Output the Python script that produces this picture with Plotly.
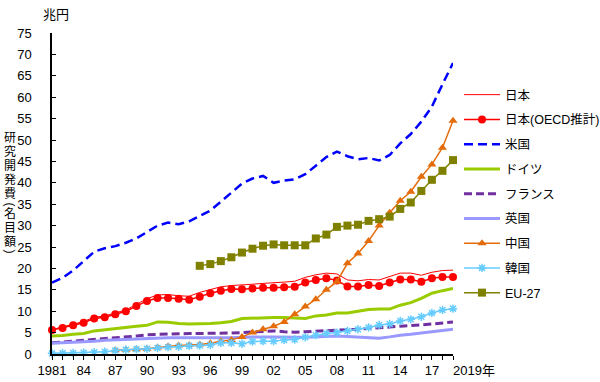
import plotly.graph_objects as go

years = list(range(1981, 2020))

japan = [5.7, 6.3, 6.9, 7.6, 8.6, 8.9, 9.6, 10.3, 11.6, 12.9,
         13.8, 13.9, 13.6, 13.5, 14.4, 15.1, 15.7, 16.0, 16.1, 16.3,
         16.5, 16.6, 16.8, 17.0, 17.9, 18.5, 18.9, 18.7, 17.3, 17.1,
         17.4, 17.3, 18.1, 18.9, 18.9, 18.4, 19.1, 19.5, 19.6]
japan_oecd = [5.6, 6.1, 6.7, 7.3, 8.3, 8.6, 9.3, 10.0, 11.2, 12.4,
              13.1, 13.1, 12.9, 12.7, 13.4, 14.2, 14.8, 15.2, 15.1, 15.3,
              15.5, 15.5, 15.6, 15.7, 16.7, 17.3, 17.7, 17.2, 15.8, 15.8,
              16.1, 15.9, 16.7, 17.4, 17.4, 16.9, 17.7, 18.0, 18.0]
usa = [16.7, 17.8, 19.5, 21.7, 23.9, 24.7, 25.2, 26.0, 27.0, 28.5,
       30.0, 30.7, 30.3, 31.0, 32.2, 33.5, 35.6, 37.8, 39.8, 41.0,
       41.6, 40.0, 40.5, 40.8, 42.0, 44.0, 46.0, 47.3, 46.2, 45.5,
       45.8, 45.2, 46.5, 49.2, 51.4, 54.3, 57.8, 63.0, 68.0]
germany = [4.2, 4.3, 4.6, 4.8, 5.4, 5.7, 6.0, 6.3, 6.5, 6.7,
           7.5, 7.4, 7.1, 7.0, 7.0, 7.1, 7.3, 7.6, 8.3, 8.4,
           8.5, 8.5, 8.5, 8.4, 8.3, 8.9, 9.1, 9.6, 9.6, 10.0,
           10.4, 10.5, 10.5, 11.4, 12.0, 13.0, 14.2, 14.8, 15.3]
france = [2.6, 2.8, 2.9, 3.1, 3.3, 3.5, 3.8, 4.0, 4.2, 4.5,
          4.6, 4.7, 4.8, 4.8, 4.8, 4.8, 4.8, 4.9, 5.0, 5.1,
          5.3, 5.4, 5.2, 5.1, 5.2, 5.3, 5.4, 5.5, 5.6, 5.8,
          6.0, 6.1, 6.3, 6.5, 6.6, 6.8, 7.0, 7.3, 7.5]
uk = [2.5, 2.6, 2.8, 2.9, 3.0, 3.2, 3.3, 3.5, 3.6, 3.7,
      3.8, 3.8, 3.8, 3.8, 3.7, 3.7, 3.7, 3.8, 3.9, 4.0,
      4.0, 4.0, 3.9, 3.9, 3.9, 4.0, 4.1, 4.2, 4.1, 4.0,
      3.9, 3.7, 4.0, 4.4, 4.6, 4.9, 5.2, 5.5, 5.8]
china = [None, None, None, None, None, None, 0.9, 1.0, 1.1, 1.2,
         1.5, 1.8, 2.0, 2.1, 2.2, 2.5, 3.0, 3.3, 4.0, 5.0,
         5.8, 6.5, 7.5, 9.3, 11.1, 12.8, 15.0, 16.9, 21.2, 23.5,
         26.4, 30.0, 33.0, 35.8, 37.9, 41.4, 44.3, 48.2, 54.5]
korea = [0.15, 0.2, 0.25, 0.3, 0.4, 0.55, 0.8, 1.0, 1.1, 1.2,
         1.4, 1.6, 1.7, 1.9, 2.0, 2.1, 2.6, 2.6, 2.4, 2.9,
         3.0, 3.0, 3.3, 3.4, 3.9, 4.4, 4.8, 5.0, 5.4, 5.8,
         6.2, 6.8, 7.0, 7.7, 8.1, 8.7, 9.6, 10.3, 10.6]
eu27 = [None] * 14 + [20.6, 21.0, 21.7, 22.6, 23.7, 24.6,
                      25.3, 25.6, 25.4, 25.4, 25.4, 27.0, 27.9, 29.7, 30.0, 30.2,
                      31.1, 31.5, 32.1, 33.9, 35.4, 38.1, 40.7, 42.8, 45.3]

x_tick_labels = ["1981", "", "", "84", "", "", "87", "", "", "90", "", "", "93", "", "",
                 "96", "", "", "99", "", "", "02", "", "", "05", "", "", "08", "", "",
                 "11", "", "", "14", "", "", "17", "", ""]
y_tick_vals = list(range(0, 80, 5))
# vertical title: parentheses are drawn rotated, as in vertical Japanese text
y_title_chars = ["研", "究", "開", "発", "費", "(", "名", "目", "額", ")"]

FONT = "Arial, 'Liberation Sans', 'Noto Sans CJK JP', sans-serif"

L, R, T, B = 52, 147, 33, 28
W, H = 600, 382
plot_w = W - L - R
plot_h = H - T - B


def px_x(px):
    return (px - L) / plot_w


def px_y(py):
    return (H - B - py) / plot_h


fig = go.Figure()


def add(name, y, color, width, dash="solid", symbol=None, msize=7, mline=None):
    mode = "lines+markers" if symbol else "lines"
    marker = dict(symbol=symbol, size=msize, color=color) if symbol else None
    if symbol and mline:
        marker["line"] = dict(color=color, width=mline)
    fig.add_trace(go.Scatter(
        x=years, y=y, name=name, mode=mode,
        line=dict(color=color, width=width, dash=dash),
        marker=marker, cliponaxis=False, legendgroup=name,
        connectgaps=False,
    ))


add("日本", japan, "#FF0000", 1)
add("日本(OECD推計)", japan_oecd, "#FF0000", 1.5, symbol="circle", msize=8)
add("米国", usa, "#0000FF", 2.5, dash="9px,5px")
add("ドイツ", germany, "#99CC00", 3)
add("フランス", france, "#7030A0", 3, dash="8px,4px")
add("英国", uk, "#9999FF", 3)
add("中国", china, "#E46C0A", 1.5, symbol="triangle-up", msize=8)
add("韓国", korea, "#66CCFF", 1.5, symbol="asterisk-open", msize=7, mline=1.5)
add("EU-27", eu27, "#808000", 1.5, symbol="square", msize=8)

fig.update_layout(
    template="none",
    width=W, height=H,
    margin=dict(l=L, r=R, t=T, b=B, autoexpand=False),
    paper_bgcolor="white", plot_bgcolor="white",
    font=dict(family=FONT, size=13, color="black"),
    showlegend=True,
    legend=dict(x=1.015, y=px_y(80), xanchor="left", yanchor="top",
                font=dict(size=12.5), tracegroupgap=5.5,
                bgcolor="rgba(0,0,0,0)", itemwidth=36),
    xaxis=dict(range=[1981, 2019], tickvals=years, ticktext=x_tick_labels,
               ticks="outside", ticklen=4, tickcolor="black", tickwidth=1,
               showline=True, linecolor="black", linewidth=1.5,
               showgrid=False, zeroline=False, tickangle=0, automargin=False,
               tickfont=dict(size=13)),
    yaxis=dict(range=[0, 75], tickvals=y_tick_vals,
               ticks="inside", ticklen=4, tickcolor="black", tickwidth=1,
               showline=True, linecolor="black", linewidth=1.5,
               showgrid=False, zeroline=False, ticklabelstandoff=16,
               automargin=False, tickfont=dict(size=13)),
)

fig.add_annotation(x=2019, y=0, xref="x", yref="paper", text="2019年",
                   showarrow=False, xanchor="left", yanchor="top", yshift=-7,
                   xshift=-2, font=dict(size=13))
fig.add_annotation(x=px_x(56), y=px_y(14), xref="paper", yref="paper", text="兆円",
                   showarrow=False, xanchor="center", yanchor="middle",
                   font=dict(size=13))
char_centres = [138, 152, 166, 180, 193, 204, 214, 228, 242, 251]
for ch, cy in zip(y_title_chars, char_centres):
    rotated = ch in "()"
    fig.add_annotation(x=px_x(9.5), y=px_y(cy), xref="paper", yref="paper",
                       text=ch, showarrow=False, xanchor="center",
                       yanchor="middle", textangle=90 if rotated else 0,
                       font=dict(size=12))

fig.write_html("out.html", config={"displayModeBar": False},
               post_script="document.body.style.margin='0px';")
